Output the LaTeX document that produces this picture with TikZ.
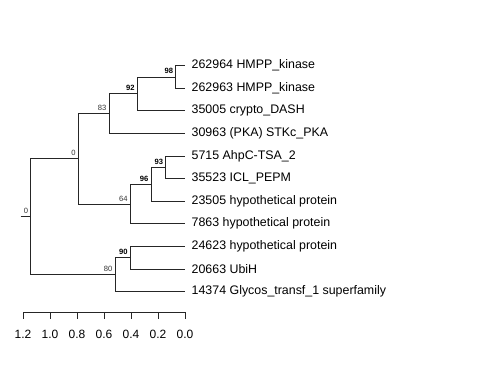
\documentclass[tikz,border=0pt]{standalone}
\usepackage{fontspec}
\setmainfont{Liberation Sans}
\tikzset{
    branch/.style = {draw=black!85, line width=0.55pt},
    leaf/.style = {anchor=west, inner xsep=6.5pt, inner ysep=0pt,
        font=\fontsize{12.4}{14}\selectfont},
    boot/.style = {anchor=south east, inner sep=0pt, xshift=-2.5pt, yshift=2.6pt,
        font=\fontsize{7.6}{8}\selectfont, text=black!80},
    bootbold/.style = {boot, text=black, font=\fontsize{7.6}{8}\selectfont\bfseries}
}
\begin{document}
\begin{tikzpicture}[x=1pt, y=-1pt]
            \useasboundingbox (0,0) rectangle (480,384);
            % leaves
            \node[leaf] (l1) at (185,65.5) {262964 HMPP\_kinase};
            \node[leaf] (l2) at (185,88.1) {262963 HMPP\_kinase};
            \node[leaf] (l3) at (185,110.7) {35005 crypto\_DASH};
            \node[leaf] (l4) at (185,133.3) {30963 (PKA) STKc\_PKA};
            \node[leaf] (l5) at (185,155.9) {5715 AhpC-TSA\_2};
            \node[leaf] (l6) at (185,178.5) {35523 ICL\_PEPM};
            \node[leaf] (l7) at (185,201.1) {23505 hypothetical protein};
            \node[leaf] (l8) at (185,223.7) {7863 hypothetical protein};
            \node[leaf] (l9) at (185,246.3) {24623 hypothetical protein};
            \node[leaf] (l10) at (185,268.9) {20663 UbiH};
            \node[leaf] (l11) at (185,291.5) {14374 Glycos\_transf\_1 superfamily};
            % inner nodes
            \coordinate (n98) at (175.7,76.8);
            \coordinate (n92) at (137.3,93.75);
            \coordinate (n83) at (109,113.5);
            \coordinate (n93) at (165.7,167.2);
            \coordinate (n96) at (151,184.15);
            \coordinate (n64) at (130.3,203.9);
            \coordinate (n0a) at (78.3,158.7);
            \coordinate (n90) at (130.3,257.6);
            \coordinate (n80) at (115,274.55);
            \coordinate (root) at (30.7,216.6);
            \coordinate (stub) at (20.7,216.6);
            % branches
            \draw[branch] (n98) |- (l1.west);
            \draw[branch] (n98) |- (l2.west);
            \draw[branch] (n92) |- (n98);
            \draw[branch] (n92) |- (l3.west);
            \draw[branch] (n83) |- (n92);
            \draw[branch] (n83) |- (l4.west);
            \draw[branch] (n93) |- (l5.west);
            \draw[branch] (n93) |- (l6.west);
            \draw[branch] (n96) |- (n93);
            \draw[branch] (n96) |- (l7.west);
            \draw[branch] (n64) |- (n96);
            \draw[branch] (n64) |- (l8.west);
            \draw[branch] (n0a) |- (n83);
            \draw[branch] (n0a) |- (n64);
            \draw[branch] (n90) |- (l9.west);
            \draw[branch] (n90) |- (l10.west);
            \draw[branch] (n80) |- (n90);
            \draw[branch] (n80) |- (l11.west);
            \draw[branch] (root) |- (n0a);
            \draw[branch] (root) |- (n80);
            \draw[branch] (stub) -- (root);
            % support values
            \node[bootbold] at (n98) {98};
            \node[bootbold] at (n92) {92};
            \node[boot] at (n83) {83};
            \node[bootbold] at (n93) {93};
            \node[bootbold] at (n96) {96};
            \node[boot] at (n64) {64};
            \node[boot] at (n0a) {0};
            \node[bootbold] at (n90) {90};
            \node[boot] at (n80) {80};
            \node[boot] at (root) {0};
            % scale axis
            \draw[branch] (23,312) -- (185,312);
            \foreach \v [count=\i from 0] in {1.2,1.0,0.8,0.6,0.4,0.2,0.0} {
                \draw[branch] (23+27*\i,312) -- (23+27*\i,319);
                \node[font=\fontsize{12}{14}\selectfont] at (23+27*\i,334) {\v};
            }
        \end{tikzpicture}
\end{document}
